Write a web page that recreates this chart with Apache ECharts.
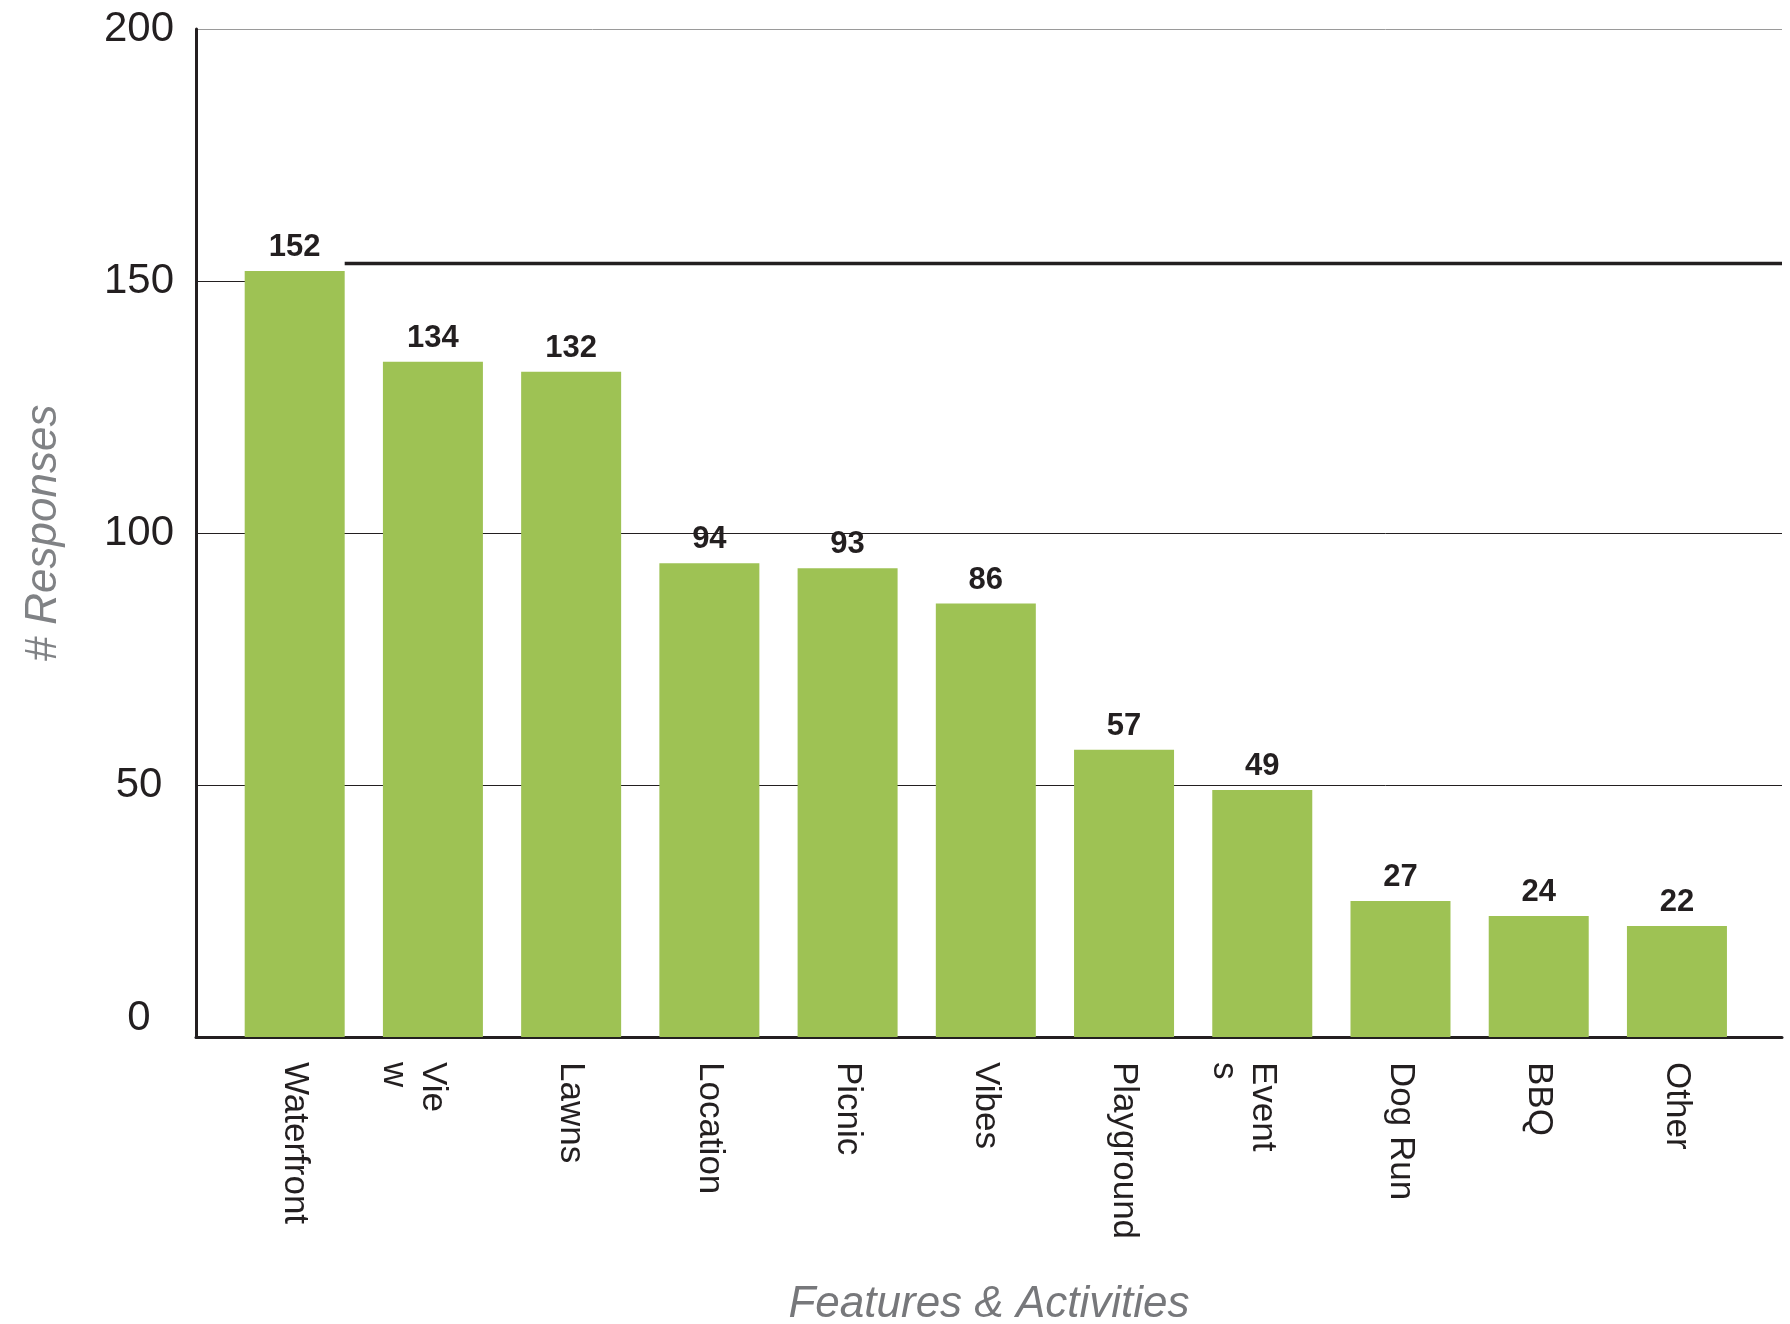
<!DOCTYPE html>
<html>
<head>
<meta charset="utf-8">
<script src="https://cdn.jsdelivr.net/npm/echarts@6/dist/echarts.min.js"></script>
<style>
html,body{margin:0;padding:0;background:#fff;}
#chart{width:1790px;height:1324px;}
</style>
</head>
<body>
<div id="chart"></div>
<script>
const categories = ['Waterfront','View','Lawns','Location','Picnic','Vibes','Playground','Events','Dog Run','BBQ','Other'];
const tickLabels = ['Waterfront','Vie\nw','Lawns','Location','Picnic','Vibes','Playground','Event\ns','Dog Run','BBQ','Other'];
const values = [152,134,132,94,93,86,57,49,27,24,22];
const yTicks = [0,50,100,150,200];
const refLine = 153.5;

const xMin = -0.714, xMax = 10.76;
const FONT = '"Liberation Sans", Arial, Helvetica, sans-serif';
const DARK = '#231f20';
const W = 1790, GL = 196, GR = 8, BAR_W = 100;
const pxPerUnit = (W - GL - GR) / (xMax - xMin);
const barHalf = BAR_W / 2 / pxPerUnit;

const chart = echarts.init(document.getElementById('chart'));
chart.setOption({
  animation: false,
  backgroundColor: '#fff',
  textStyle: { fontFamily: FONT },
  grid: { left: GL, right: GR, top: 29, bottom: 287, containLabel: false, outerBoundsMode: 'none' },
  xAxis: {
    type: 'value', min: xMin, max: xMax,
    name: 'Features & Activities', nameLocation: 'middle', nameGap: 246,
    nameTextStyle: { fontSize: 44, fontStyle: 'italic', color: '#77787b', fontFamily: FONT },
    axisLine: { show: true, onZero: false, lineStyle: { color: DARK, width: 3 } },
    axisTick: { show: false },
    splitLine: { show: false },
    axisLabel: {
      customValues: categories.map((c, i) => i),
      formatter: v => { const t = tickLabels[Math.round(v)]; return t.indexOf('\n') >= 0 ? ' \n' + t : t; },
      rotate: -90, fontSize: 35, lineHeight: 39, color: DARK, margin: 25, fontFamily: FONT
    }
  },
  yAxis: {
    type: 'value', min: yTicks[0], max: yTicks[yTicks.length - 1], interval: yTicks[1] - yTicks[0],
    name: '# Responses', nameLocation: 'middle', nameGap: 130,
    nameTextStyle: { fontSize: 44, fontStyle: 'italic', color: '#808285', fontFamily: FONT },
    axisLine: { show: true, onZero: false, lineStyle: { color: DARK, width: 3 } },
    axisTick: { show: false },
    axisLabel: {
      fontSize: 42, color: DARK, align: 'center', margin: 57, fontFamily: FONT,
      formatter: v => v === 0 ? '{z|0}' : String(v),
      rich: { z: { fontSize: 42, color: DARK, padding: [0, 0, 38, 0], fontFamily: FONT } }
    },
    splitLine: { show: true, lineStyle: { width: 1, color: [DARK, DARK, DARK, 'rgba(0,0,0,0)', '#9a9a9a'] } }
  },
  series: [{
    type: 'bar',
    data: values.map((v, i) => [i, v]),
    barWidth: BAR_W,
    itemStyle: { color: '#9ec254' },
    label: { show: true, position: 'top', distance: 8, fontSize: 31, fontWeight: 'bold', color: DARK, fontFamily: FONT,
      formatter: p => p.value[1] },
    markLine: {
      z: 1, silent: true, symbol: 'none', label: { show: false },
      data: [
        [{ coord: [barHalf, refLine], lineStyle: { color: DARK, width: 3.3, type: 'solid' } }, { coord: [xMax, refLine] }],
        [{ coord: [xMin, yTicks[3]], lineStyle: { color: DARK, width: 1, type: 'solid' } }, { coord: [0, yTicks[3]] }]
      ]
    }
  }]
});
</script>
</body>
</html>
